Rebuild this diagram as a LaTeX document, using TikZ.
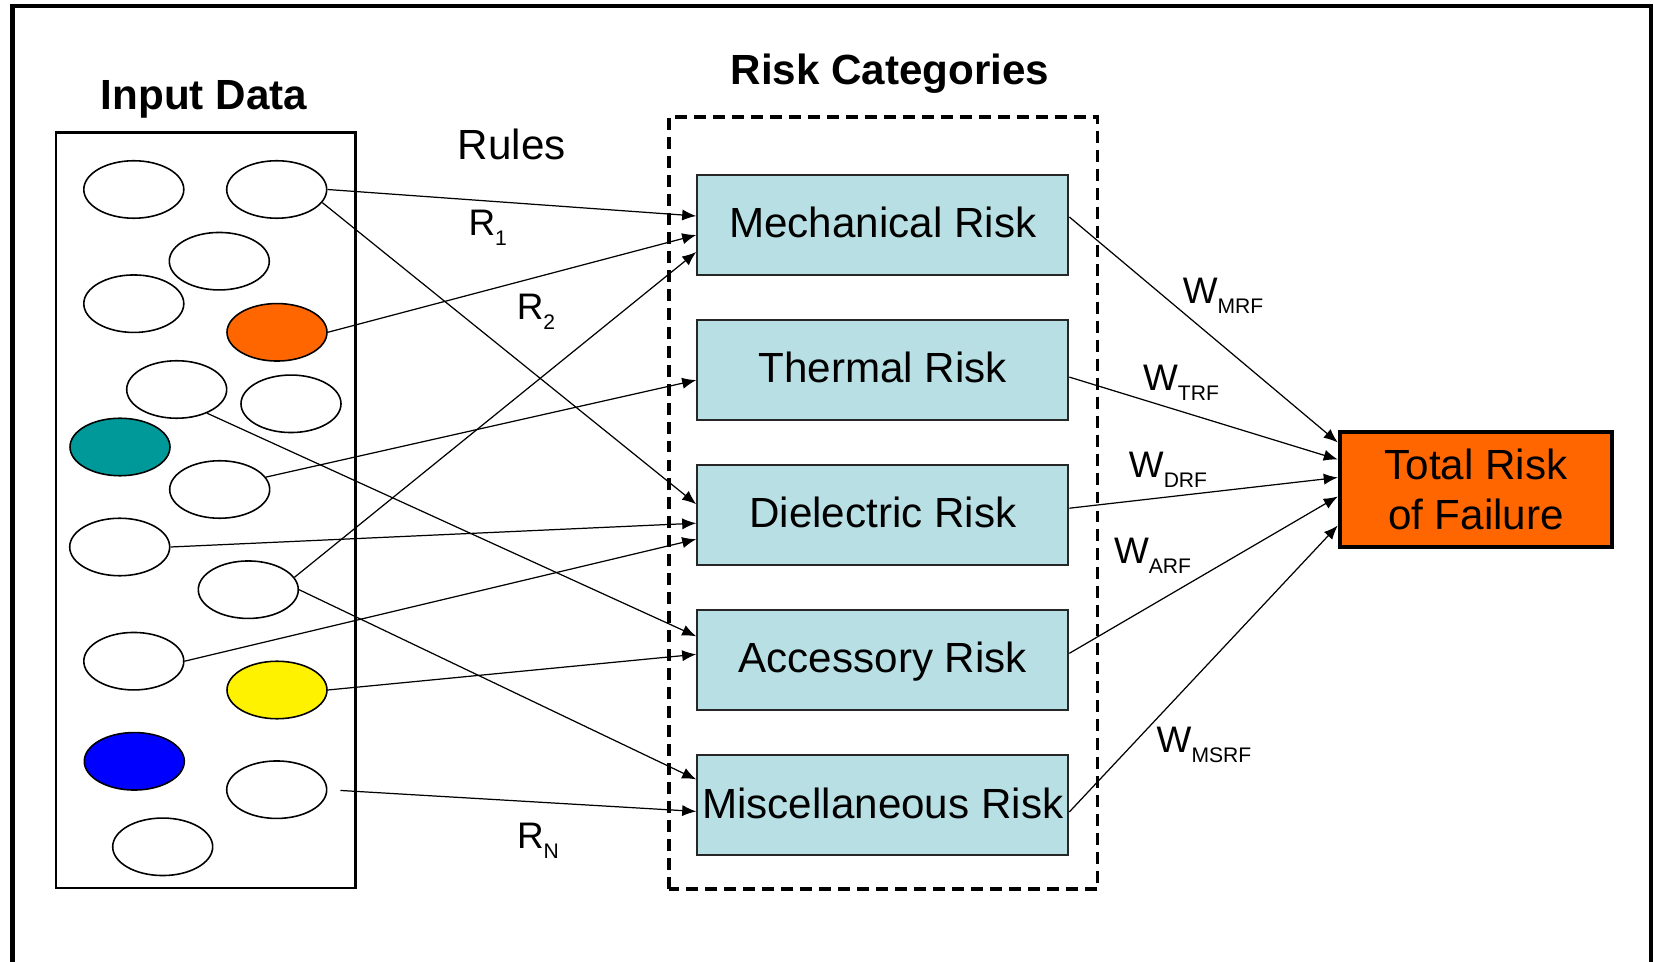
\documentclass[tikz,border=0pt]{standalone}
\usepackage{fontspec}
\setmainfont{Liberation Sans}
\usetikzlibrary{positioning}
\usetikzlibrary{arrows.meta}
\usetikzlibrary{shapes.geometric}

\definecolor{riskblue}{RGB}{184,224,228}
\definecolor{failorange}{RGB}{255,102,0}
\definecolor{datateal}{RGB}{0,153,153}

\newcommand{\sublab}[2]{#1\raisebox{-0.27em}{\fontsize{6}{7}\selectfont #2}}

\begin{document}
\begin{tikzpicture}[>={Latex[length=4pt,width=3.2pt]},
    datum/.style={ellipse,draw,line width=0.45pt,minimum width=1cm,minimum height=0.575cm,inner sep=0pt},
    riskbox/.style={draw=black!85,fill=riskblue,line width=0.6pt,minimum width=3.71cm,minimum height=1cm,
      inner sep=0pt,text height=0.72em,text depth=0pt,font=\fontsize{12}{14}\selectfont},
    title/.style={anchor=base,inner sep=0pt,font=\fontsize{12}{14}\selectfont\bfseries},
    wlab/.style={inner sep=0pt,font=\fontsize{10.5}{12}\selectfont},
    rule/.style={->,line width=0.35pt}]
  \useasboundingbox (0,0) rectangle (16.54,9.61);
  \draw[line width=1.2pt] (0.125,-0.1) |- (16.51,9.55) -- (16.51,-0.1);

  % input data
  \node[title] (intitle) at (2.04,8.51) {Input Data};
  \draw[line width=0.8pt] (0.56,0.73) rectangle (3.555,8.287);
  \node[datum] (e1) at (1.338,7.715) {};
  \node[datum] (e2) at (2.767,7.715) {};
  \node[datum] (e3) at (2.193,6.998) {};
  \node[datum] (e4) at (1.338,6.573) {};
  \node[datum,fill=failorange] (e5) at (2.770,6.287) {};
  \node[datum] (e6) at (1.767,5.715) {};
  \node[datum] (e7) at (2.910,5.572) {};
  \node[datum,fill=datateal] (e8) at (1.200,5.140) {};
  \node[datum] (e9) at (2.197,4.715) {};
  \node[datum] (e10) at (1.197,4.140) {};
  \node[datum] (e11) at (2.483,3.713) {};
  \node[datum] (e12) at (1.338,2.998) {};
  \node[datum,fill=yellow] (e13) at (2.770,2.710) {};
  \node[datum,fill=blue] (e14) at (1.343,1.997) {};
  \node[datum] (e15) at (2.767,1.713) {};
  \node[datum] (e16) at (1.627,1.142) {};

  \node[anchor=base,inner sep=0pt,font=\fontsize{12}{14}\selectfont] (rules) at (5.117,8.01) {Rules};

  % risk categories
  \node[title] (cattitle) at (8.90,8.76) {Risk Categories};
  \draw[line width=1pt,dash pattern=on 3.4pt off 2pt] (6.69,0.72) rectangle (10.977,8.44);
  \node[riskbox] (mech) at (8.828,7.36) {Mechanical Risk};
  \node[riskbox,below=0.43cm of mech] (therm) {Thermal Risk};
  \node[riskbox,below=0.43cm of therm] (diel) {Dielectric Risk};
  \node[riskbox,below=0.43cm of diel] (acc) {Accessory Risk};
  \node[riskbox,below=0.43cm of acc] (misc) {Miscellaneous Risk};

  \node[draw,line width=1.2pt,fill=failorange,minimum width=2.72cm,minimum height=1.15cm,align=center,
    font=\fontsize{12}{14.2}\selectfont] (total) at (14.759,4.715) {Total Risk\\of Failure};

  % rules
  \draw[rule] (e2.east) -- ([yshift=0.09cm]mech.west);
  \draw[rule] (e2.-16) -- ([yshift=0.11cm]diel.west);
  \draw[rule] (e5.east) -- ([yshift=-0.10cm]mech.west);
  \draw[rule] (e6.-38) -- ([yshift=0.24cm]acc.west);
  \draw[rule] (e9.15) -- ([yshift=-0.10cm]therm.west);
  \draw[rule] (e10.east) -- ([yshift=-0.08cm]diel.west);
  \draw[rule] (e11.15) -- ([yshift=-0.27cm]mech.west);
  \draw[rule] (e11.east) -- ([yshift=0.26cm]misc.west);
  \draw[rule] (e12.east) -- ([yshift=-0.24cm]diel.west);
  \draw[rule] (e13.east) -- ([yshift=0.06cm]acc.west);
  \draw[rule,shorten <=3.7pt] (e15.east) -- ([yshift=-0.06cm]misc.west);

  \node[wlab] (r1) at (4.877,7.33) {\sublab{R}{1}};
  \node[wlab] (r2) at (5.36,6.49) {\sublab{R}{2}};
  \node[wlab] (rn) at (5.38,1.20) {\sublab{R}{N}};

  % weights
  \draw[rule] ([yshift=0.08cm]mech.east) -- ([yshift=0.47cm]total.west);
  \draw[rule] ([yshift=-0.07cm]therm.east) -- ([yshift=0.30cm]total.west);
  \draw[rule] ([yshift=0.07cm]diel.east) -- ([yshift=0.12cm]total.west);
  \draw[rule] ([yshift=0.07cm]acc.east) -- ([yshift=-0.07cm]total.west);
  \draw[rule] ([yshift=-0.065cm]misc.east) -- ([yshift=-0.36cm]total.west);

  \node[wlab] (wm) at (12.23,6.65) {\sublab{W}{MRF}};
  \node[wlab] (wt) at (11.81,5.78) {\sublab{W}{TRF}};
  \node[wlab] (wd) at (11.68,4.91) {\sublab{W}{DRF}};
  \node[wlab] (wa) at (11.525,4.05) {\sublab{W}{ARF}};
  \node[wlab] (wms) at (12.04,2.16) {\sublab{W}{MSRF}};
\end{tikzpicture}
\end{document}
